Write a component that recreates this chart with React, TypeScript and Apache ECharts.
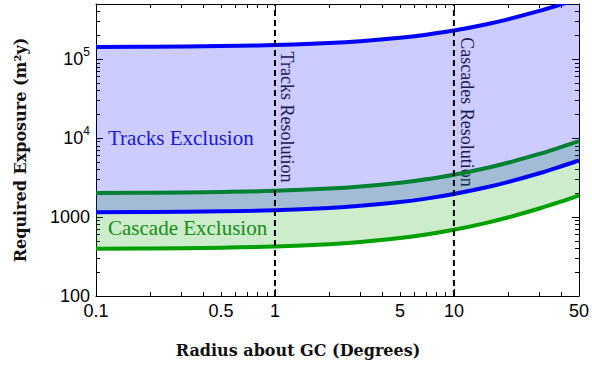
import React, { useEffect, useRef } from 'react';
import * as echarts from 'echarts';

// Radius about GC (degrees)
const radius = [0.1, 0.2, 0.5, 1, 2, 3, 5, 7, 10, 15, 20, 30, 40, 50];
// Required exposure (m^2 y)
const tracksHigh = [143000, 143900, 146500, 151000, 159900, 168700, 186500, 204300, 230900, 275300, 319700, 408500, 497400, 586200];
const tracksLow = [1150, 1158, 1183, 1224, 1305, 1387, 1550, 1713, 1958, 2366, 2773, 3589, 4405, 5221];
const cascadeHigh = [2020, 2034, 2078, 2149, 2293, 2436, 2722, 3009, 3439, 4155, 4872, 6304, 7737, 9170];
const cascadeLow = [397, 400, 409, 424, 453, 483, 542, 601, 690, 838, 986, 1283, 1579, 1875];

const resolutionLines = [1, 10];

const xLabelValues = [0.1, 0.5, 1, 5, 10, 50];
const xMajorTicks = [0.1, 1, 10];
const xMinorTicks = [0.2, 0.3, 0.4, 0.5, 0.6, 0.7, 0.8, 0.9, 2, 3, 4, 5, 6, 7, 8, 9, 20, 30, 40];
const yLabelValues = [100, 1000, 10000, 100000];
const yMinorTicks = [
  200, 300, 400, 500, 600, 700, 800, 900,
  2000, 3000, 4000, 5000, 6000, 7000, 8000, 9000,
  20000, 30000, 40000, 50000, 60000, 70000, 80000, 90000,
  200000, 300000, 400000,
];

const X_MIN = 0.1, X_MAX = 50, Y_MIN = 100, Y_MAX = 500000;

const BLUE = '#0000ff';
const GREEN = 'rgb(0,160,0)';

type P = number[];
function curve(pts: P[], start: boolean): string {
  let d = start ? `M${pts[0][0]},${pts[0][1]}` : `L${pts[0][0]},${pts[0][1]}`;
  for (let i = 0; i < pts.length - 1; i++) {
    const p0 = pts[i - 1] || pts[i];
    const p1 = pts[i];
    const p2 = pts[i + 1];
    const p3 = pts[i + 2] || p2;
    const c1x = p1[0] + (p2[0] - p0[0]) / 6, c1y = p1[1] + (p2[1] - p0[1]) / 6;
    const c2x = p2[0] - (p3[0] - p1[0]) / 6, c2y = p2[1] - (p3[1] - p1[1]) / 6;
    d += ` C${c1x},${c1y} ${c2x},${c2y} ${p2[0]},${p2[1]}`;
  }
  return d;
}

function bandSeries(name: string, hi: number[], lo: number[], fill: string, hiColor: string, loColor: string) {
  return {
    type: 'custom', name, coordinateSystem: 'cartesian2d', xAxisIndex: 0, yAxisIndex: 0,
    clip: true, silent: true,
    data: [[X_MIN, Y_MIN]],
    renderItem: (_params: any, api: any) => {
      const top = radius.map((x, i) => api.coord([x, hi[i]]));
      const bot = radius.map((x, i) => api.coord([x, lo[i]]));
      const botRev = bot.slice().reverse();
      const fillPath = curve(top, true) + ' ' + curve(botRev, false) + ' Z';
      return {
        type: 'group',
        children: [
          { type: 'path', shape: { pathData: fillPath }, style: { fill, stroke: 'none' } },
          { type: 'path', shape: { pathData: curve(bot, true) }, style: { fill: 'none', stroke: loColor, lineWidth: 4 } },
          { type: 'path', shape: { pathData: curve(top, true) }, style: { fill: 'none', stroke: hiColor, lineWidth: 4 } },
        ],
      };
    },
  };
}

function xAxis(position: 'top' | 'bottom', ticks: number[], len: number, labels: boolean, line: boolean) {
  return {
    type: 'log', logBase: 10, min: X_MIN, max: X_MAX, position,
    axisLine: { show: line, onZero: false, lineStyle: { color: '#000', width: 1 } },
    axisTick: { show: true, inside: true, length: len, customValues: ticks, lineStyle: { color: '#000', width: 1 } },
    axisLabel: labels ? {
      show: true, customValues: xLabelValues, margin: 6, color: '#000',
      fontFamily: 'Liberation Sans', fontSize: 18,
      formatter: (v: number) => String(Number(Number(v).toPrecision(3))),
    } : { show: false },
    splitLine: { show: false }, minorTick: { show: false }, minorSplitLine: { show: false },
  };
}

function yAxis(position: 'left' | 'right', ticks: number[], len: number, labels: boolean, line: boolean) {
  return {
    type: 'log', logBase: 10, min: Y_MIN, max: Y_MAX, position,
    axisLine: { show: line, onZero: false, lineStyle: { color: '#000', width: 1 } },
    axisTick: { show: true, inside: true, length: len, customValues: ticks, lineStyle: { color: '#000', width: 1 } },
    axisLabel: labels ? {
      show: true, customValues: yLabelValues, margin: 6, color: '#000',
      formatter: (v: number) => {
        const e = Math.round(Math.log10(v));
        if (e <= 3) return `{n|${Math.round(v)}}`;
        return `{n|10}{s|${e}}`;
      },
      rich: {
        n: { fontFamily: 'Liberation Sans', fontSize: 18, lineHeight: 26, color: '#000' },
        s: { fontFamily: 'Liberation Sans', fontSize: 12, lineHeight: 12, verticalAlign: 'top', color: '#000' },
      },
    } : { show: false },
    splitLine: { show: false }, minorTick: { show: false }, minorSplitLine: { show: false },
  };
}

export default function App() {
  const ref = useRef<HTMLDivElement>(null);
  useEffect(() => {
    document.body.style.margin = '0';
    if (!ref.current) return;
    const chart = echarts.init(ref.current, undefined, { renderer: 'svg' });
    chart.setOption({
      animation: false,
      grid: { left: 96, right: 10, top: 4, bottom: 72, containLabel: false },
      xAxis: [
        xAxis('bottom', xMajorTicks, 7, true, true),
        xAxis('bottom', xMinorTicks, 4, false, false),
        xAxis('top', xMajorTicks, 7, false, true),
        xAxis('top', xMinorTicks, 4, false, false),
      ],
      yAxis: [
        yAxis('left', yLabelValues, 7, true, true),
        yAxis('left', yMinorTicks, 4, false, false),
        yAxis('right', yLabelValues, 7, false, true),
        yAxis('right', yMinorTicks, 4, false, false),
      ],
      series: [
        bandSeries('Cascade', cascadeHigh, cascadeLow, 'rgba(0,160,0,0.2)', GREEN, GREEN),
        bandSeries('Tracks', tracksHigh, tracksLow, 'rgba(0,0,255,0.2)', BLUE, BLUE),
        ...resolutionLines.map((x) => ({
          type: 'line', xAxisIndex: 0, yAxisIndex: 0, silent: true, symbol: 'none', showSymbol: false,
          data: [[x, Y_MIN], [x, Y_MAX]],
          lineStyle: { color: '#000', width: 2, type: [6, 4] },
        })),
      ],
      graphic: [
        { type: 'text', left: 108, top: 127, style: { text: 'Tracks Exclusion', fontFamily: 'Liberation Serif', fontSize: 21, fill: '#2222cc' } },
        { type: 'text', left: 108, top: 217, style: { text: 'Cascade Exclusion', fontFamily: 'Liberation Serif', fontSize: 21, fill: '#1a8a1a' } },
        { type: 'text', x: 287, y: 117, rotation: -Math.PI / 2,
          style: { text: 'Tracks Resolution', fontFamily: 'Liberation Serif', fontSize: 18, fill: '#222', align: 'center', verticalAlign: 'middle' } },
        { type: 'text', x: 467, y: 112, rotation: -Math.PI / 2,
          style: { text: 'Cascades Resolution', fontFamily: 'Liberation Serif', fontSize: 18, fill: '#222', align: 'center', verticalAlign: 'middle' } },
        { type: 'text', x: 298, y: 350,
          style: { text: 'Radius about GC (Degrees)', fontFamily: 'DejaVu Serif', fontWeight: 'bold', fontSize: 16, fill: '#111', align: 'center', verticalAlign: 'middle' } },
        { type: 'text', x: 20, y: 150, rotation: Math.PI / 2,
          style: { text: 'Required Exposure (m²y)', fontFamily: 'DejaVu Serif', fontWeight: 'bold', fontSize: 16, fill: '#111', align: 'center', verticalAlign: 'middle' } },
      ],
    });
    return () => chart.dispose();
  }, []);
  return <div ref={ref} style={{ width: 592, height: 368 }} />;
}
